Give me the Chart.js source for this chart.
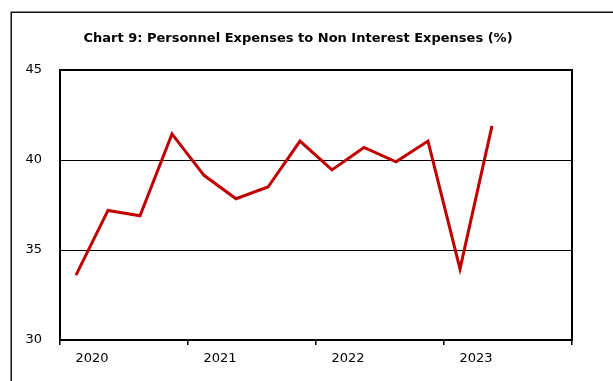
<!DOCTYPE html>
<html lang="en">
<head>
    <meta charset="UTF-8">
    <title>Personnel Expenses to Non Interest Expenses</title>
    <script src="https://cdn.jsdelivr.net/npm/chart.js"></script>
    <style>
        body { margin: 0; background: #fff; overflow: hidden; }
        #wrap { width: 613px; height: 381px; position: relative; }
    </style>
</head>
<body>
    <div id="wrap"><canvas id="chart" width="613" height="381"></canvas></div>

    <script>
// Quarterly ratio, Q1 2020 to Q2 2023 (%)
const quarters = ['2020 Q1', '2020 Q2', '2020 Q3', '2020 Q4',
                  '2021 Q1', '2021 Q2', '2021 Q3', '2021 Q4',
                  '2022 Q1', '2022 Q2', '2022 Q3', '2022 Q4',
                  '2023 Q1', '2023 Q2'];
const ratio = [33.6, 37.2, 36.9, 41.45, 39.15, 37.85, 38.5, 41.05, 39.45, 40.7, 39.9, 41.05, 33.95, 41.9];
const years = ['2020', '2021', '2022', '2023'];
const yTicks = [30, 35, 40, 45];

// x is a quarter index; each point sits in the middle of its quarter slot
const points = ratio.map((v, i) => ({ x: i + 0.5, y: v }));

// outer frame and plot border
const framePlugin = {
    id: 'frame',
    beforeDraw(chart) {
        const ctx = chart.ctx;
        ctx.save();
        ctx.fillStyle = '#fff';
        ctx.fillRect(0, 0, chart.width, chart.height);
        ctx.strokeStyle = '#111';
        ctx.lineWidth = 1.5;
        ctx.strokeRect(11.25, 12.25, 700, 500);
        ctx.restore();
    },
    afterDatasetsDraw(chart) {
        const a = chart.chartArea;
        const ctx = chart.ctx;
        ctx.save();
        ctx.strokeStyle = '#000';
        ctx.lineWidth = 2;
        ctx.strokeRect(a.left, a.top, a.right - a.left, a.bottom - a.top);
        ctx.restore();
    }
};

new Chart(document.getElementById('chart'), {
    type: 'line',
    data: {
        datasets: [{
            label: 'Personnel expenses / non interest expenses',
            data: points,
            borderColor: '#c00000',
            borderWidth: 3,
            pointRadius: 0,
            tension: 0,
            fill: false
        }]
    },
    options: {
        responsive: false,
        animation: false,
        devicePixelRatio: 1,
        layout: { padding: { left: 24, right: 41, top: 0, bottom: 0 } },
        scales: {
            x: {
                type: 'linear',
                min: 0,
                max: 16,
                afterBuildTicks(scale) {
                    scale.ticks = Array.from({ length: 17 }, (_, i) => ({ value: i }));
                },
                afterFit(scale) { scale.height = 41; },
                border: { display: false },
                grid: {
                    drawOnChartArea: false,
                    drawTicks: true,
                    tickLength: 5,
                    lineWidth: 1.5,
                    color: c => (c.tick && c.tick.value % 4 === 0) ? '#000' : 'rgba(0,0,0,0)'
                },
                ticks: {
                    autoSkip: false,
                    maxRotation: 0,
                    padding: 6,
                    color: '#000',
                    font: { family: 'DejaVu Sans', size: 13 },
                    callback: v => (v % 4 === 1) ? years[(v - 1) / 4] : ''
                }
            },
            y: {
                min: 30,
                max: 45,
                afterBuildTicks(scale) {
                    scale.ticks = yTicks.map(v => ({ value: v }));
                },
                afterFit(scale) { scale.width = 36; },
                border: { display: false },
                grid: {
                    drawTicks: false,
                    color: '#000',
                    lineWidth: 1
                },
                ticks: {
                    padding: 18,
                    color: '#000',
                    font: { family: 'DejaVu Sans', size: 13 }
                }
            }
        },
        plugins: {
            legend: { display: false },
            tooltip: { enabled: false },
            title: {
                display: true,
                text: 'Chart 9: Personnel Expenses to Non Interest Expenses (%)',
                color: '#000',
                font: { family: 'DejaVu Sans', size: 13, weight: 'bold' },
                padding: { top: 31, bottom: 23.4 }
            }
        }
    },
    plugins: [framePlugin]
});
    </script>
</body>
</html>
